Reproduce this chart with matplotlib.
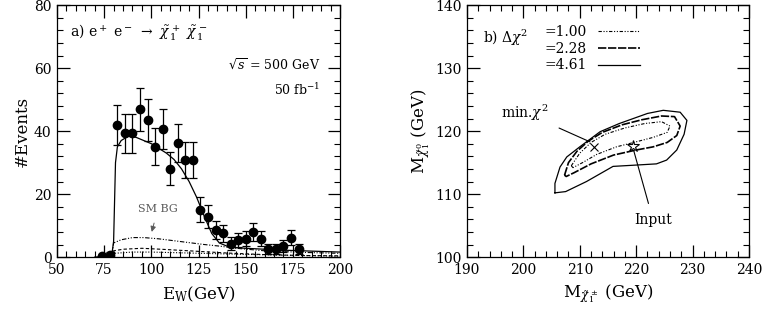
import numpy as np
import matplotlib
matplotlib.use("Agg")
import matplotlib.pyplot as plt
from matplotlib.ticker import MultipleLocator

plt.rcParams['font.family'] = ['DejaVu Serif']
plt.rcParams['mathtext.fontset'] = 'dejavuserif'

# ---- panel a: chargino pair events vs E_W ----
e_bins = [74, 78, 82, 86, 90, 94, 98, 102, 106, 110, 114, 118, 122, 126, 130,
          134, 138, 142, 146, 150, 154, 158, 162, 166, 170, 174, 178]
n_events = [0.2, 0.7, 41.9, 39.3, 39.3, 46.9, 43.5, 35.0, 40.6, 28.1, 36.1, 30.8,
            30.8, 15.1, 12.8, 8.6, 7.5, 4.3, 5.4, 5.9, 8.0, 5.9, 2.7, 2.5, 3.6, 6.2, 2.5]
n_err = [0.4, 0.8, 6.4, 6.2, 6.2, 6.8, 6.6, 5.9, 6.4, 5.3, 6.0, 5.6,
         5.6, 3.9, 3.6, 2.9, 2.7, 2.1, 2.3, 2.4, 2.8, 2.4, 1.6, 1.6, 1.9, 2.5, 1.6]

fit_x = [70, 76, 79, 80, 81, 82, 84, 88, 92, 96, 100, 104, 108, 112, 116, 120,
         124, 128, 132, 136, 140, 145, 150, 160, 170, 180, 190, 200]
fit_y = [0.0, 0.3, 0.5, 5.0, 30.0, 35.0, 37.0, 38.5, 38.0, 37.0, 36.0, 34.5, 33.0,
         31.0, 28.0, 24.0, 19.0, 13.0, 7.5, 4.5, 3.5, 3.0, 2.8, 2.5, 2.2, 2.0, 1.8, 1.6]

bg1_x = [79, 80, 84, 90, 96, 104, 112, 120, 128, 136, 145, 160, 180, 200]
bg1_y = [0.0, 4.5, 5.5, 6.2, 6.2, 5.8, 5.2, 4.6, 4.0, 3.5, 2.8, 2.0, 1.5, 1.2]
bg2_x = [79, 80, 85, 95, 105, 120, 140, 160, 180, 200]
bg2_y = [0.0, 2.0, 2.5, 2.8, 2.5, 2.0, 1.3, 0.8, 0.5, 0.4]
bg3_x = [79, 80, 90, 100, 120, 140, 170, 200]
bg3_y = [0.0, 1.2, 1.6, 1.6, 1.3, 1.0, 0.6, 0.3]

# ---- panel b: delta chi^2 contours in (M_chargino, M_neutralino) ----
c461_x = [205.6, 205.6, 206.5, 207.7, 210.0, 213.6, 217.0, 219.5, 222.0, 224.8, 227.8,
          229.0, 228.5, 227.2, 225.4, 223.6, 219.8, 215.9, 211.2, 207.5, 205.6]
c461_y = [110.2, 111.7, 114.3, 115.9, 117.5, 119.9, 121.2, 122.0, 122.8, 123.3, 123.0,
          121.7, 119.5, 117.0, 115.4, 114.8, 114.6, 114.4, 112.0, 110.4, 110.2]
c228_x = [207.3, 208.0, 209.5, 211.5, 214.0, 217.5, 221.0, 224.5, 226.8, 227.8, 227.2,
          225.5, 223.0, 220.0, 216.0, 212.0, 209.0, 207.6, 207.3]
c228_y = [113.0, 115.0, 116.8, 118.4, 119.8, 121.0, 121.8, 122.4, 122.3, 120.8, 119.3,
          118.2, 117.5, 117.0, 116.2, 114.8, 113.4, 112.8, 113.0]
c100_x = [208.5, 210.0, 212.0, 214.5, 218.0, 221.5, 224.5, 226.0, 225.5, 223.0, 220.0,
          216.5, 213.0, 210.5, 208.8, 208.5]
c100_y = [114.5, 116.5, 118.2, 119.5, 120.5, 121.2, 121.5, 120.8, 119.8, 119.0, 118.3,
          117.5, 116.3, 115.0, 114.2, 114.5]
min_chi2 = (212.5, 117.5)
input_pt = (219.5, 117.6)

fig = plt.figure(figsize=(7.63, 3.19), dpi=100)
ax1 = fig.add_axes([0.0747, 0.194, 0.371, 0.790])
ax2 = fig.add_axes([0.612, 0.194, 0.3696, 0.790])

# panel a
ax1.plot(fit_x, fit_y, color='black', lw=0.9)
ax1.plot(bg1_x, bg1_y, color='black', lw=0.8, dashes=(4, 1.5, 1, 1.5, 1, 1.5))
ax1.plot(bg2_x, bg2_y, color='black', lw=0.8, dashes=(3, 2))
ax1.plot(bg3_x, bg3_y, color='black', lw=0.8, dashes=(1, 1.5))
ax1.errorbar(e_bins, n_events, yerr=n_err, fmt='o', color='black', ms=6,
             capsize=3, elinewidth=0.9, capthick=0.9)
ax1.set_xlim(50, 200)
ax1.set_ylim(0, 80)
ax1.xaxis.set_major_locator(MultipleLocator(25))
ax1.xaxis.set_minor_locator(MultipleLocator(5))
ax1.yaxis.set_major_locator(MultipleLocator(20))
ax1.yaxis.set_minor_locator(MultipleLocator(4))
ax1.set_xlabel(r'E$_{\rm W}$(GeV)', fontsize=12, labelpad=6)
ax1.set_ylabel('#Events', fontsize=12, labelpad=2)
ax1.text(0.046, 0.889, r'a) e$^+$ e$^-$ $\rightarrow$ $\tilde\chi_1^+$ $\tilde\chi_1^-$',
         transform=ax1.transAxes, fontsize=10, va='center')
ax1.text(0.929, 0.762, r'$\sqrt{s}$ = 500 GeV', transform=ax1.transAxes,
         fontsize=9, ha='right', va='center')
ax1.text(0.929, 0.663, r'50 fb$^{-1}$', transform=ax1.transAxes,
         fontsize=9, ha='right', va='center')
ax1.annotate('SM BG', xy=(100.2, 8.0), xytext=(103.5, 15.4), fontsize=8,
             ha='center', va='center', color='0.35',
             arrowprops=dict(arrowstyle='-|>', color='0.35', lw=0.7,
                             shrinkA=5, shrinkB=0, mutation_scale=8))

# panel b
h1, = ax2.plot(c100_x, c100_y, color='black', lw=0.8, dashes=(3, 1.5, 1, 1.5, 1, 1.5))
h2, = ax2.plot(c228_x, c228_y, color='black', lw=1.2, dashes=(5, 1))
h3, = ax2.plot(c461_x, c461_y, color='black', lw=0.9)
ax2.plot(*min_chi2, marker='x', color='black', ms=6, mew=0.8)
ax2.plot(*input_pt, marker='*', color='black', mfc='white', ms=9, mew=0.8)
ax2.set_xlim(190, 240)
ax2.set_ylim(100, 140)
ax2.xaxis.set_major_locator(MultipleLocator(10))
ax2.xaxis.set_minor_locator(MultipleLocator(2))
ax2.yaxis.set_major_locator(MultipleLocator(10))
ax2.yaxis.set_minor_locator(MultipleLocator(2))
ax2.set_xlabel(r'M$_{\tilde\chi_1^\pm}$ (GeV)', fontsize=12, labelpad=4)
ax2.set_ylabel(r'M$_{\tilde\chi_1^0}$ (GeV)', fontsize=12, labelpad=2)
ax2.text(192.8, 134.8, r'b) $\Delta\chi^2$', fontsize=10, va='center')
ax2.legend([h1, h2, h3], ['=1.00', '=2.28', '=4.61'], loc='upper left',
           bbox_to_anchor=(0.24, 0.96), frameon=False, markerfirst=False,
           fontsize=10, handlelength=3.0, handletextpad=0.8, labelspacing=0.2,
           borderpad=0.2)
ax2.annotate(r'min.$\chi^2$', xy=(211.8, 118.3), xytext=(200.3, 122.9),
             fontsize=10, ha='center', va='center',
             arrowprops=dict(arrowstyle='-', color='black', lw=0.8,
                             shrinkA=6, shrinkB=0))
ax2.annotate('Input', xy=(219.6, 116.8), xytext=(223.0, 105.9),
             fontsize=10, ha='center', va='center',
             arrowprops=dict(arrowstyle='-', color='black', lw=0.8,
                             shrinkA=5, shrinkB=0))

for ax in (ax1, ax2):
    ax.tick_params(which='both', direction='in', top=True, right=True,
                   labelsize=10, pad=4)
    ax.tick_params(which='major', length=9, width=0.9)
    ax.tick_params(which='minor', length=4, width=0.8)
    for s in ax.spines.values():
        s.set_linewidth(0.9)

fig.savefig('out.png', dpi=100)
